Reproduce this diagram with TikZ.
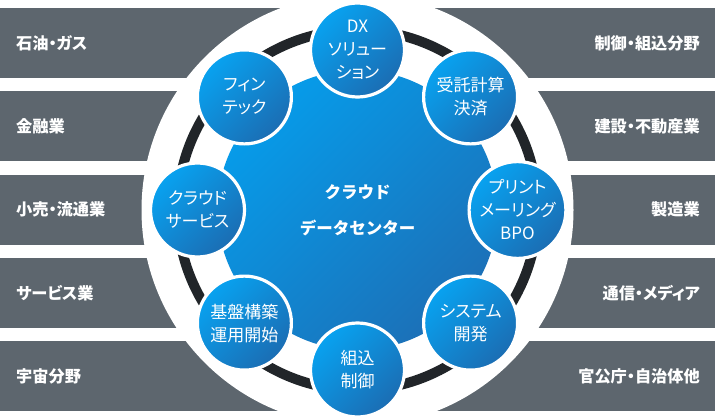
\documentclass[tikz,border=0pt]{standalone}
\usepackage{fontspec}
\setmainfont{Noto Sans CJK JP}
\newfontfamily\jp{Noto Sans CJK JP}
\newfontfamily\jpp[RawFeature=+palt]{Noto Sans CJK JP}
\definecolor{barc}{HTML}{5D666E}
\definecolor{ringc}{HTML}{212529}
\definecolor{bluel}{HTML}{08A2F0}
\definecolor{blued}{HTML}{1B6DB3}
\definecolor{corel}{HTML}{069CEA}
\definecolor{cored}{HTML}{1C70B7}
\tikzset{
  barbox/.style={fill=barc},
  bartext/.style={text=white, font=\jpp\bfseries\fontsize{16.2}{18}\selectfont, inner sep=0},
  sat/.style={circle, draw=white, line width=3.2, minimum size=94, inner sep=0,
     top color=bluel, bottom color=blued, shading angle=45,
     text=white, align=center, font=\jpp\fontsize{17}{23}\selectfont},
  coretext/.style={text=white, font=\jp\bfseries\fontsize{16.5}{18}\selectfont, inner sep=0}
}
\begin{document}
\begin{tikzpicture}[x=1pt,y=-1pt]
\useasboundingbox (0,0) rectangle (715,420);
\fill[white] (0,0) rectangle (715,420);
\coordinate (c) at (357.5,210);
% bars
\foreach \i in {0,...,4}{
  \fill[barbox] (0,{8+83.25*\i}) rectangle (358,{78+83.25*\i});
  \fill[barbox] (357,{8+83.25*\i}) rectangle (715,{78+83.25*\i});
}
\node[bartext, anchor=west] (l1) at (16,43) {石油・ガス};
\node[bartext, anchor=west] (l2) at (16,126.25) {金融業};
\node[bartext, anchor=west] (l3) at (16,209.5) {小売・流通業};
\node[bartext, anchor=west] (l4) at (16,292.75) {サービス業};
\node[bartext, anchor=west] (l5) at (16,376) {宇宙分野};
\node[bartext, anchor=east] (r1) at (700,43) {制御・組込分野};
\node[bartext, anchor=east] (r2) at (700,126.25) {建設・不動産業};
\node[bartext, anchor=east] (r3) at (700,209.5) {製造業};
\node[bartext, anchor=east] (r4) at (700,292.75) {通信・メディア};
\node[bartext, anchor=east] (r5) at (700,376) {官公庁・自治体他};
% white disc
\fill[white] (c) circle (216);
% ring
\draw[ringc, line width=10] (c) circle (180);
% core
\node[circle, minimum size=280, inner sep=0, top color=corel, bottom color=cored, shading angle=45] (core) at (c) {};
\node[coretext] (t1) at (357.5,192) {クラウド};
\node[coretext] (t2) at (357.5,228) {データセンター};
% satellites
\node[sat] (s1) at (357.5,50) {DX\\ソリュー\\ション};
\node[sat] (s2) at (470.6,96.9) {受託計算\\決済};
\node[sat] (s3) at (517.5,210) {プリント\\メーリング\\BPO};
\node[sat] (s4) at (470.6,323.1) {システム\\開発};
\node[sat] (s5) at (357.5,370) {組込\\制御};
\node[sat] (s6) at (244.4,323.1) {基盤構築\\運用開始};
\node[sat] (s7) at (197.5,210) {クラウド\\サービス};
\node[sat] (s8) at (244.4,96.9) {フィン\\テック};
\end{tikzpicture}
\end{document}
